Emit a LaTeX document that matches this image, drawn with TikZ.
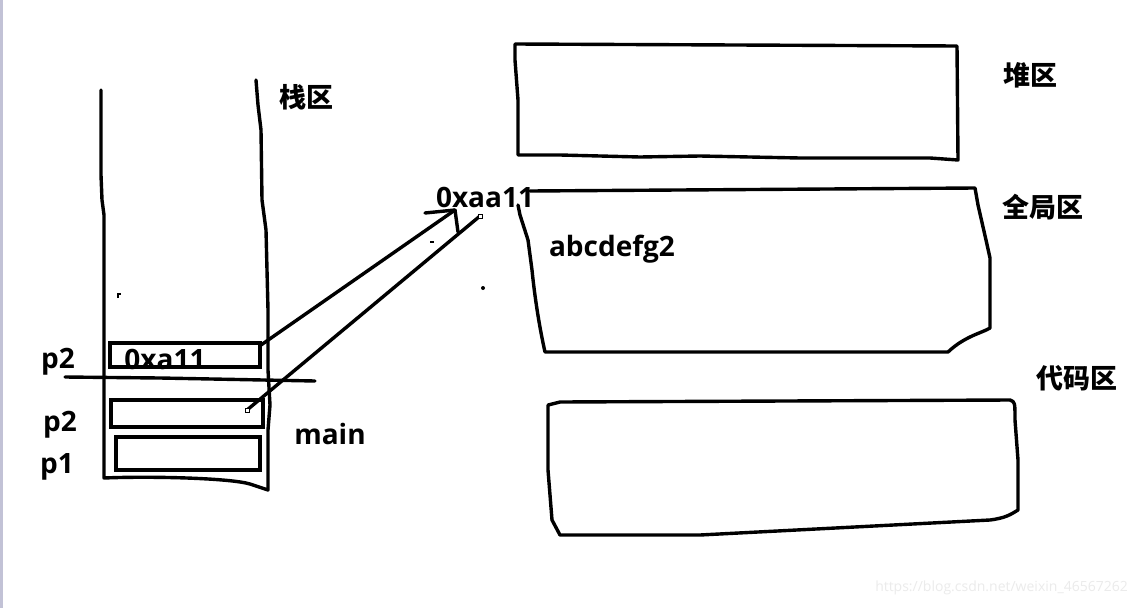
\documentclass[tikz,border=0pt]{standalone}
\usepackage{fontspec}
\setmainfont{Open Sans}
\newfontfamily\cjk{Noto Sans CJK SC}
\begin{document}
\begin{tikzpicture}[x=1pt,y=-1pt,
  pen/.style={line width=3.4pt,line cap=round,line join=round},
  boxpen/.style={line width=4.2pt,line join=miter},
  lbl/.style={font=\bfseries\fontsize{28}{28}\selectfont,inner sep=0pt},
  zh/.style={font=\cjk\bfseries\fontsize{27}{27}\selectfont,inner sep=0pt}]
\useasboundingbox (0,0) rectangle (1135,608);
\fill[white] (0,0) rectangle (1135,608);
\fill[blue!20!gray!40] (0,0) rectangle (3,608);
% stack
\draw[pen] (101,90) -- (101,175) -- (102,200) -- (104,215) -- (104,478)
  .. controls (150,476) and (230,478) .. (250,484) -- (268,490) -- (268,430)
  -- (270,405) -- (268,370) -- (268,310) -- (266,230) -- (262,200) -- (261,130) -- (258,105) -- (256,80);
\node[zh] at (306,97) {栈区};
% frames
\node[draw,boxpen,minimum width=150pt,minimum height=24pt,inner sep=0pt] (b1) at (185,355) {};
\node[draw,boxpen,minimum width=152pt,minimum height=27pt,inner sep=0pt] (b2) at (187,413.5) {};
\node[draw,boxpen,minimum width=144pt,minimum height=33pt,inner sep=0pt] (b3) at (188,453.5) {};
\node[lbl] at (165,359) {0xa11};
\draw[pen] (65,377) -- (160,378) -- (315,381);
\node[lbl] (l1) at (58,362) {p2};
\node[lbl] (l2) at (60,425) {p2};
\node[lbl] (l3) at (57,467) {p1};
\node[lbl] (mn) at (330,434) {main};
% arrows
\coordinate (t1) at (455,210);
\coordinate (t2) at (480,216);
\coordinate (s1) at (261,345);
\coordinate (s2) at (247,410);
\draw[pen] (s1) -- (t1);
\draw[pen] (425,213) -- (t1) -- (458,232);
\draw[pen] (s2) -- (t2);
\draw[line width=0.8pt,fill=white] (478,214) rectangle (482,218);
\draw[line width=0.8pt,fill=white] (245,408) rectangle (249,412);
\fill (483,288) circle (2);
\draw[line width=1.2pt] (118,298) -- (118,294) -- (121,294);
\draw[line width=1.2pt] (430,242) -- (434,242);
\node[lbl] (addr) at (485,197) {0xaa11};
% heap
\draw[pen] (515,44) -- (957,46) -- (958,160) -- (930,158)
  -- (800,158) -- (700,156) -- (640,157) -- (560,155) -- (518,155) -- (518,100) -- (515,60) -- (515,44);
\node[zh] at (1030,75) {堆区};
% global
\draw[pen] (530,191) -- (975,188) -- (978,205) -- (986,240) -- (990,258) -- (990,328)
  .. controls (982,333) and (965,336) .. (948,352) -- (700,352) -- (545,352)
  .. controls (540,330) and (535,300) .. (532,270) -- (528,240) -- (520,215) -- (518,205);
\node[lbl] at (612,249) {abcdefg2};
\node[zh] at (1043,207) {全局区};
% code
\draw[pen] (548,405) -- (560,402) -- (1010,400) .. controls (1015,402) .. (1015,420)
  -- (1018,460) -- (1018,510) .. controls (1010,515) and (1005,518) .. (990,520)
  -- (700,535) -- (580,535) -- (560,535) -- (552,520) -- (548,470) -- (548,405);
\node[zh] at (1077,378) {代码区};
% watermark
\node[font=\fontsize{14}{14}\selectfont,text=black!8,anchor=east,inner sep=0pt] at (1128,588) {https://blog.csdn.net/weixin\_46567262};
\end{tikzpicture}
\end{document}
